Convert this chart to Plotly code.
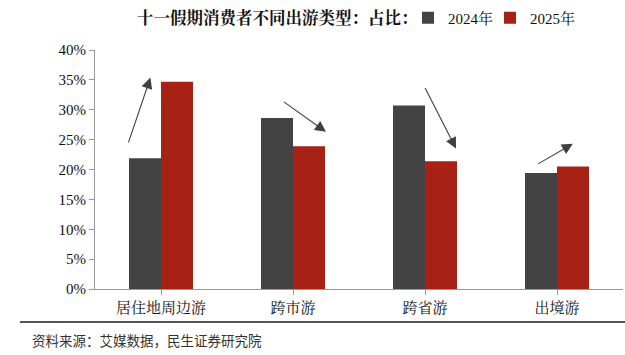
import plotly.graph_objects as go

categories = ["居住地周边游", "跨市游", "跨省游", "出境游"]
series_names = ["2024年", "2025年"]
values_2024 = [21.9, 28.6, 30.7, 19.4]
values_2025 = [34.7, 23.9, 21.4, 20.5]
y_ticks = [0, 5, 10, 15, 20, 25, 30, 35, 40]
y_tick_labels = [f"{v}%" for v in y_ticks]

# trend arrows: (tail x, tail y, head x, head y) in category-index / percent units
arrows = [
    (-0.25, 24.3, -0.08, 35.4),
    (0.92, 31.5, 1.25, 26.3),
    (1.995, 33.9, 2.235, 23.5),
    (2.845, 20.8, 3.12, 24.3),
]

title_text = "十一假期消费者不同出游类型：占比："
source_text = "资料来源：艾媒数据，民生证券研究院"

c_dark = "#434343"
c_red = "#A82115"
serif = "Liberation Serif, 'Noto Serif CJK SC', 'Noto Sans CJK SC', serif"

x_idx = list(range(len(categories)))

fig = go.Figure()
fig.add_trace(go.Bar(x=x_idx, y=values_2024, name=series_names[0],
                     legend="legend",
                     marker=dict(color=c_dark, line=dict(width=0))))
fig.add_trace(go.Bar(x=x_idx, y=values_2025, name=series_names[1],
                     legend="legend2",
                     marker=dict(color=c_red, line=dict(width=0))))

for (x0, y0, x1, y1) in arrows:
    fig.add_annotation(x=x1, y=y1, ax=x0, ay=y0, xref="x", yref="y",
                       axref="x", ayref="y", showarrow=True, text="",
                       arrowhead=2, arrowsize=2.0, arrowwidth=1.1,
                       arrowcolor="#404040")

fig.add_annotation(text=f"<b>{title_text}</b>", xref="paper", yref="paper",
                   x=(135 - 95) / 528, y=(289 - 18) / 239, xanchor="left",
                   yanchor="middle", showarrow=False,
                   font=dict(family=serif, size=16.5, color="#111111"))

fig.add_annotation(text=source_text, xref="paper", yref="paper",
                   x=(30 - 95) / 528, y=(289 - 340) / 239, xanchor="left",
                   yanchor="middle", showarrow=False,
                   font=dict(family="'Noto Sans CJK SC', sans-serif", size=13.5,
                             color="#333333"))

fig.add_shape(type="line", xref="paper", yref="paper",
              x0=(20 - 95) / 528, x1=(625 - 95) / 528,
              y0=(289 - 322) / 239, y1=(289 - 322) / 239,
              line=dict(color="#555555", width=2))

legend_common = dict(orientation="h", y=(289 - 18) / 239, xanchor="left",
                     yanchor="middle",
                     font=dict(family=serif, size=15, color="#111111"),
                     itemwidth=30, bgcolor="rgba(0,0,0,0)")

fig.update_layout(
    width=625, height=355,
    margin=dict(l=95, r=2, t=50, b=66),
    plot_bgcolor="white", paper_bgcolor="white",
    barmode="group", bargap=0.515, bargroupgap=0,
    showlegend=True,
    legend=dict(x=(408 - 95) / 528, **legend_common),
    legend2=dict(x=(490 - 95) / 528, **legend_common),
    xaxis=dict(tickmode="array", tickvals=x_idx, ticktext=categories,
               range=[-0.5, 3.5], showline=True, linecolor="#999999",
               linewidth=1, ticks="outside", tickson="boundaries",
               ticklen=5, tickcolor="#999999", showgrid=False,
               tickfont=dict(family=serif, size=15, color="#111111")),
    yaxis=dict(range=[0, 40], tickmode="array", tickvals=y_ticks,
               ticktext=y_tick_labels, showline=True, linecolor="#999999",
               linewidth=1, ticks="outside", ticklen=5, tickcolor="#999999",
               showgrid=False, zeroline=False,
               tickfont=dict(family=serif, size=15, color="#111111")),
)

fig.write_html("out.html", config={"displayModeBar": False},
               post_script="document.body.style.margin='0';")
